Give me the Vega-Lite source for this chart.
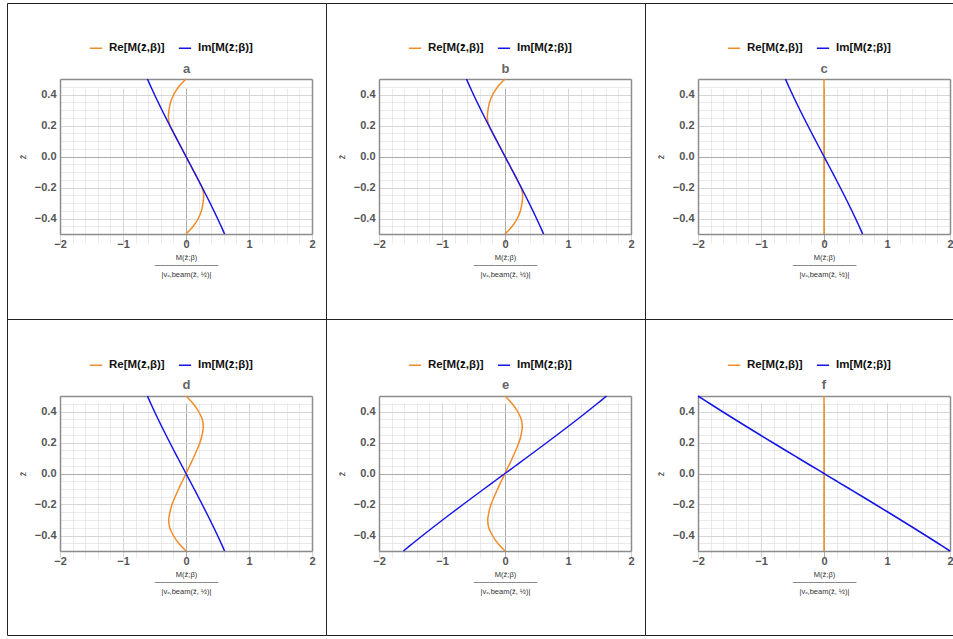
{
  "$schema": "https://vega.github.io/schema/vega-lite/v6.json",
  "padding": {"left": 6, "top": 2, "right": 0, "bottom": 0},
  "columns": 3,
  "spacing": 0,
  "bounds": "flush",
  "resolve": {"legend": {"color": "independent"}},
  "datasets": {
    "curves": [
      {"p": "a", "z": 0.5, "re": 0, "im": -0.6125},
      {"p": "a", "z": 0.45, "re": -0.115, "im": -0.5577},
      {"p": "a", "z": 0.4, "re": -0.195, "im": -0.5008},
      {"p": "a", "z": 0.35, "re": -0.245, "im": -0.4421},
      {"p": "a", "z": 0.3, "re": -0.27, "im": -0.3819},
      {"p": "a", "z": 0.25, "re": -0.28, "im": -0.3203},
      {"p": "a", "z": 0.2, "re": -0.255, "im": -0.2576},
      {"p": "a", "z": 0.15, "re": -0.192, "im": -0.194},
      {"p": "a", "z": 0.1, "re": -0.128, "im": -0.1297},
      {"p": "a", "z": 0.05, "re": -0.064, "im": -0.065},
      {"p": "a", "z": 0, "re": 0, "im": 0},
      {"p": "a", "z": -0.05, "re": 0.064, "im": 0.065},
      {"p": "a", "z": -0.1, "re": 0.128, "im": 0.1297},
      {"p": "a", "z": -0.15, "re": 0.192, "im": 0.194},
      {"p": "a", "z": -0.2, "re": 0.255, "im": 0.2576},
      {"p": "a", "z": -0.25, "re": 0.28, "im": 0.3203},
      {"p": "a", "z": -0.3, "re": 0.27, "im": 0.3819},
      {"p": "a", "z": -0.35, "re": 0.245, "im": 0.4421},
      {"p": "a", "z": -0.4, "re": 0.195, "im": 0.5008},
      {"p": "a", "z": -0.45, "re": 0.115, "im": 0.5577},
      {"p": "a", "z": -0.5, "re": 0, "im": 0.6125},

      {"p": "b", "z": 0.5, "re": 0, "im": -0.6125},
      {"p": "b", "z": 0.45, "re": -0.115, "im": -0.5577},
      {"p": "b", "z": 0.4, "re": -0.195, "im": -0.5008},
      {"p": "b", "z": 0.35, "re": -0.245, "im": -0.4421},
      {"p": "b", "z": 0.3, "re": -0.27, "im": -0.3819},
      {"p": "b", "z": 0.25, "re": -0.28, "im": -0.3203},
      {"p": "b", "z": 0.2, "re": -0.255, "im": -0.2576},
      {"p": "b", "z": 0.15, "re": -0.192, "im": -0.194},
      {"p": "b", "z": 0.1, "re": -0.128, "im": -0.1297},
      {"p": "b", "z": 0.05, "re": -0.064, "im": -0.065},
      {"p": "b", "z": 0, "re": 0, "im": 0},
      {"p": "b", "z": -0.05, "re": 0.064, "im": 0.065},
      {"p": "b", "z": -0.1, "re": 0.128, "im": 0.1297},
      {"p": "b", "z": -0.15, "re": 0.192, "im": 0.194},
      {"p": "b", "z": -0.2, "re": 0.255, "im": 0.2576},
      {"p": "b", "z": -0.25, "re": 0.28, "im": 0.3203},
      {"p": "b", "z": -0.3, "re": 0.27, "im": 0.3819},
      {"p": "b", "z": -0.35, "re": 0.245, "im": 0.4421},
      {"p": "b", "z": -0.4, "re": 0.195, "im": 0.5008},
      {"p": "b", "z": -0.45, "re": 0.115, "im": 0.5577},
      {"p": "b", "z": -0.5, "re": 0, "im": 0.6125},

      {"p": "c", "z": 0.5, "re": 0, "im": -0.6125},
      {"p": "c", "z": 0.45, "re": 0, "im": -0.5577},
      {"p": "c", "z": 0.4, "re": 0, "im": -0.5008},
      {"p": "c", "z": 0.35, "re": 0, "im": -0.4421},
      {"p": "c", "z": 0.3, "re": 0, "im": -0.3819},
      {"p": "c", "z": 0.25, "re": 0, "im": -0.3203},
      {"p": "c", "z": 0.2, "re": 0, "im": -0.2576},
      {"p": "c", "z": 0.15, "re": 0, "im": -0.194},
      {"p": "c", "z": 0.1, "re": 0, "im": -0.1297},
      {"p": "c", "z": 0.05, "re": 0, "im": -0.065},
      {"p": "c", "z": 0, "re": 0, "im": 0},
      {"p": "c", "z": -0.05, "re": 0, "im": 0.065},
      {"p": "c", "z": -0.1, "re": 0, "im": 0.1297},
      {"p": "c", "z": -0.15, "re": 0, "im": 0.194},
      {"p": "c", "z": -0.2, "re": 0, "im": 0.2576},
      {"p": "c", "z": -0.25, "re": 0, "im": 0.3203},
      {"p": "c", "z": -0.3, "re": 0, "im": 0.3819},
      {"p": "c", "z": -0.35, "re": 0, "im": 0.4421},
      {"p": "c", "z": -0.4, "re": 0, "im": 0.5008},
      {"p": "c", "z": -0.45, "re": 0, "im": 0.5577},
      {"p": "c", "z": -0.5, "re": 0, "im": 0.6125},

      {"p": "d", "z": 0.5, "re": 0, "im": -0.6125},
      {"p": "d", "z": 0.45, "re": 0.115, "im": -0.5577},
      {"p": "d", "z": 0.4, "re": 0.2, "im": -0.5008},
      {"p": "d", "z": 0.35, "re": 0.258, "im": -0.4421},
      {"p": "d", "z": 0.3, "re": 0.274, "im": -0.3819},
      {"p": "d", "z": 0.25, "re": 0.256, "im": -0.3203},
      {"p": "d", "z": 0.2, "re": 0.222, "im": -0.2576},
      {"p": "d", "z": 0.15, "re": 0.172, "im": -0.194},
      {"p": "d", "z": 0.1, "re": 0.117, "im": -0.1297},
      {"p": "d", "z": 0.05, "re": 0.059, "im": -0.065},
      {"p": "d", "z": 0, "re": 0, "im": 0},
      {"p": "d", "z": -0.05, "re": -0.059, "im": 0.065},
      {"p": "d", "z": -0.1, "re": -0.117, "im": 0.1297},
      {"p": "d", "z": -0.15, "re": -0.172, "im": 0.194},
      {"p": "d", "z": -0.2, "re": -0.222, "im": 0.2576},
      {"p": "d", "z": -0.25, "re": -0.256, "im": 0.3203},
      {"p": "d", "z": -0.3, "re": -0.274, "im": 0.3819},
      {"p": "d", "z": -0.35, "re": -0.258, "im": 0.4421},
      {"p": "d", "z": -0.4, "re": -0.2, "im": 0.5008},
      {"p": "d", "z": -0.45, "re": -0.115, "im": 0.5577},
      {"p": "d", "z": -0.5, "re": 0, "im": 0.6125},

      {"p": "e", "z": 0.5, "re": 0, "im": 1.6125},
      {"p": "e", "z": 0.45, "re": 0.115, "im": 1.4619},
      {"p": "e", "z": 0.4, "re": 0.2, "im": 1.308},
      {"p": "e", "z": 0.35, "re": 0.258, "im": 1.1511},
      {"p": "e", "z": 0.3, "re": 0.274, "im": 0.9915},
      {"p": "e", "z": 0.25, "re": 0.256, "im": 0.8297},
      {"p": "e", "z": 0.2, "re": 0.222, "im": 0.666},
      {"p": "e", "z": 0.15, "re": 0.172, "im": 0.5008},
      {"p": "e", "z": 0.1, "re": 0.117, "im": 0.3345},
      {"p": "e", "z": 0.05, "re": 0.059, "im": 0.1674},
      {"p": "e", "z": 0, "re": 0, "im": 0},
      {"p": "e", "z": -0.05, "re": -0.059, "im": -0.1674},
      {"p": "e", "z": -0.1, "re": -0.117, "im": -0.3345},
      {"p": "e", "z": -0.15, "re": -0.172, "im": -0.5008},
      {"p": "e", "z": -0.2, "re": -0.222, "im": -0.666},
      {"p": "e", "z": -0.25, "re": -0.256, "im": -0.8297},
      {"p": "e", "z": -0.3, "re": -0.274, "im": -0.9915},
      {"p": "e", "z": -0.35, "re": -0.258, "im": -1.1511},
      {"p": "e", "z": -0.4, "re": -0.2, "im": -1.308},
      {"p": "e", "z": -0.45, "re": -0.115, "im": -1.4619},
      {"p": "e", "z": -0.5, "re": 0, "im": -1.6125},

      {"p": "f", "z": 0.5, "re": 0, "im": -2.0},
      {"p": "f", "z": 0.45, "re": 0, "im": -1.8086},
      {"p": "f", "z": 0.4, "re": 0, "im": -1.6144},
      {"p": "f", "z": 0.35, "re": 0, "im": -1.4179},
      {"p": "f", "z": 0.3, "re": 0, "im": -1.2192},
      {"p": "f", "z": 0.25, "re": 0, "im": -1.0188},
      {"p": "f", "z": 0.2, "re": 0, "im": -0.8168},
      {"p": "f", "z": 0.15, "re": 0, "im": -0.6137},
      {"p": "f", "z": 0.1, "re": 0, "im": -0.4096},
      {"p": "f", "z": 0.05, "re": 0, "im": -0.205},
      {"p": "f", "z": 0, "re": 0, "im": 0},
      {"p": "f", "z": -0.05, "re": 0, "im": 0.205},
      {"p": "f", "z": -0.1, "re": 0, "im": 0.4096},
      {"p": "f", "z": -0.15, "re": 0, "im": 0.6137},
      {"p": "f", "z": -0.2, "re": 0, "im": 0.8168},
      {"p": "f", "z": -0.25, "re": 0, "im": 1.0188},
      {"p": "f", "z": -0.3, "re": 0, "im": 1.2192},
      {"p": "f", "z": -0.35, "re": 0, "im": 1.4179},
      {"p": "f", "z": -0.4, "re": 0, "im": 1.6144},
      {"p": "f", "z": -0.45, "re": 0, "im": 1.8086},
      {"p": "f", "z": -0.5, "re": 0, "im": 2.0}
    ]
  },
  "data": {"name": "curves"},
  "concat": [
    {
      "width": 319, "height": 316,
      "title": {"text": "a", "dx": 20},
      "transform": [{"filter": "datum.p === 'a'"}, {"fold": ["re", "im"], "as": ["comp", "v"]}],
      "resolve": {"axis": {"x": "independent", "y": "independent"}},
      "layer": [
        {
          "transform": [{"filter": "datum.comp === 're'"}],
          "mark": {"type": "line", "interpolate": "catmull-rom", "strokeWidth": 1.5},
          "encoding": {
            "x": {"field": "v", "type": "quantitative", "scale": {"domain": [-2, 2], "range": [53, 305], "nice": false, "zero": false},
              "axis": {"orient": "bottom", "offset": -85, "grid": true,
                "values": [-2, -1.8, -1.6, -1.4, -1.2, -1, -0.8, -0.6, -0.4, -0.2, 0, 0.2, 0.4, 0.6, 0.8, 1, 1.2, 1.4, 1.6, 1.8, 2],
                "labelExpr": "datum.value % 1 === 0 ? format(datum.value, 'd') : ''",
                "gridColor": {"condition": {"test": "datum.value === 0", "value": "#ababab"}, "value": "#d6d6d6"},
                "gridOpacity": {"condition": {"test": "datum.value % 1 === 0", "value": 1}, "value": 0.5},
                "title": ["M(z̄;β)", "────────────", "|vₓ,beam(z̄, ½)|"]}},
            "y": {"field": "z", "type": "quantitative", "scale": {"domain": [-0.5, 0.5], "range": [231, 76], "nice": false, "zero": false},
              "axis": {"orient": "left", "offset": -53, "grid": true,
                "values": [-0.5, -0.45, -0.4, -0.35, -0.3, -0.25, -0.2, -0.15, -0.1, -0.05, 0, 0.05, 0.1, 0.15, 0.2, 0.25, 0.3, 0.35, 0.4, 0.45, 0.5],
                "labelExpr": "abs(datum.value * 5 - round(datum.value * 5)) < 1e-6 ? format(datum.value, '.1f') : ''",
                "gridColor": {"condition": {"test": "datum.value === 0", "value": "#ababab"}, "value": "#d6d6d6"},
                "gridOpacity": {"condition": {"test": "abs(datum.value * 5 - round(datum.value * 5)) < 1e-6", "value": 1}, "value": 0.5},
                "title": "z̄"}},
            "color": {"field": "comp", "type": "nominal", "scale": {"domain": ["re", "im"], "range": ["#F28C28", "#1515E8"]},
              "legend": {"orient": "none", "legendX": 82, "legendY": 38, "labelExpr": "datum.value === 're' ? 'Re[M(z̄,β)]' : 'Im[M(z̄;β)]'"}},
            "order": {"field": "z", "type": "quantitative"}
          }
        },
        {
          "transform": [{"filter": "datum.comp === 'im'"}],
          "mark": {"type": "line", "interpolate": "catmull-rom", "strokeWidth": 1.5},
          "encoding": {
            "x": {"field": "v", "type": "quantitative", "scale": {"domain": [-2, 2], "range": [53, 305], "nice": false, "zero": false},
              "axis": {"orient": "top", "offset": -76, "grid": false, "labels": false, "title": null}},
            "y": {"field": "z", "type": "quantitative", "scale": {"domain": [-0.5, 0.5], "range": [231, 76], "nice": false, "zero": false},
              "axis": {"orient": "right", "offset": -14, "grid": false, "labels": false, "title": null}},
            "color": {"field": "comp", "type": "nominal", "scale": {"domain": ["re", "im"], "range": ["#F28C28", "#1515E8"]},
              "legend": {"orient": "none", "legendX": 82, "legendY": 38, "labelExpr": "datum.value === 're' ? 'Re[M(z̄,β)]' : 'Im[M(z̄;β)]'"}},
            "order": {"field": "z", "type": "quantitative"}
          }
        }
      ]
    },
    {
      "width": 319, "height": 316,
      "title": {"text": "b", "dx": 20},
      "transform": [{"filter": "datum.p === 'b'"}, {"fold": ["re", "im"], "as": ["comp", "v"]}],
      "resolve": {"axis": {"x": "independent", "y": "independent"}},
      "layer": [
        {
          "transform": [{"filter": "datum.comp === 're'"}],
          "mark": {"type": "line", "interpolate": "catmull-rom", "strokeWidth": 1.5},
          "encoding": {
            "x": {"field": "v", "type": "quantitative", "scale": {"domain": [-2, 2], "range": [53, 305], "nice": false, "zero": false},
              "axis": {"orient": "bottom", "offset": -85, "grid": true,
                "values": [-2, -1.8, -1.6, -1.4, -1.2, -1, -0.8, -0.6, -0.4, -0.2, 0, 0.2, 0.4, 0.6, 0.8, 1, 1.2, 1.4, 1.6, 1.8, 2],
                "labelExpr": "datum.value % 1 === 0 ? format(datum.value, 'd') : ''",
                "gridColor": {"condition": {"test": "datum.value === 0", "value": "#ababab"}, "value": "#d6d6d6"},
                "gridOpacity": {"condition": {"test": "datum.value % 1 === 0", "value": 1}, "value": 0.5},
                "title": ["M(z̄;β)", "────────────", "|vₓ,beam(z̄, ½)|"]}},
            "y": {"field": "z", "type": "quantitative", "scale": {"domain": [-0.5, 0.5], "range": [231, 76], "nice": false, "zero": false},
              "axis": {"orient": "left", "offset": -53, "grid": true,
                "values": [-0.5, -0.45, -0.4, -0.35, -0.3, -0.25, -0.2, -0.15, -0.1, -0.05, 0, 0.05, 0.1, 0.15, 0.2, 0.25, 0.3, 0.35, 0.4, 0.45, 0.5],
                "labelExpr": "abs(datum.value * 5 - round(datum.value * 5)) < 1e-6 ? format(datum.value, '.1f') : ''",
                "gridColor": {"condition": {"test": "datum.value === 0", "value": "#ababab"}, "value": "#d6d6d6"},
                "gridOpacity": {"condition": {"test": "abs(datum.value * 5 - round(datum.value * 5)) < 1e-6", "value": 1}, "value": 0.5},
                "title": "z̄"}},
            "color": {"field": "comp", "type": "nominal", "scale": {"domain": ["re", "im"], "range": ["#F28C28", "#1515E8"]},
              "legend": {"orient": "none", "legendX": 82, "legendY": 38, "labelExpr": "datum.value === 're' ? 'Re[M(z̄,β)]' : 'Im[M(z̄;β)]'"}},
            "order": {"field": "z", "type": "quantitative"}
          }
        },
        {
          "transform": [{"filter": "datum.comp === 'im'"}],
          "mark": {"type": "line", "interpolate": "catmull-rom", "strokeWidth": 1.5},
          "encoding": {
            "x": {"field": "v", "type": "quantitative", "scale": {"domain": [-2, 2], "range": [53, 305], "nice": false, "zero": false},
              "axis": {"orient": "top", "offset": -76, "grid": false, "labels": false, "title": null}},
            "y": {"field": "z", "type": "quantitative", "scale": {"domain": [-0.5, 0.5], "range": [231, 76], "nice": false, "zero": false},
              "axis": {"orient": "right", "offset": -14, "grid": false, "labels": false, "title": null}},
            "color": {"field": "comp", "type": "nominal", "scale": {"domain": ["re", "im"], "range": ["#F28C28", "#1515E8"]},
              "legend": {"orient": "none", "legendX": 82, "legendY": 38, "labelExpr": "datum.value === 're' ? 'Re[M(z̄,β)]' : 'Im[M(z̄;β)]'"}},
            "order": {"field": "z", "type": "quantitative"}
          }
        }
      ]
    },
    {
      "width": 310, "height": 316,
      "title": {"text": "c", "dx": 24},
      "transform": [{"filter": "datum.p === 'c'"}, {"fold": ["re", "im"], "as": ["comp", "v"]}],
      "resolve": {"axis": {"x": "independent", "y": "independent"}},
      "layer": [
        {
          "transform": [{"filter": "datum.comp === 're'"}],
          "mark": {"type": "line", "interpolate": "catmull-rom", "strokeWidth": 1.5},
          "encoding": {
            "x": {"field": "v", "type": "quantitative", "scale": {"domain": [-2, 2], "range": [53, 305], "nice": false, "zero": false},
              "axis": {"orient": "bottom", "offset": -85, "grid": true,
                "values": [-2, -1.8, -1.6, -1.4, -1.2, -1, -0.8, -0.6, -0.4, -0.2, 0, 0.2, 0.4, 0.6, 0.8, 1, 1.2, 1.4, 1.6, 1.8, 2],
                "labelExpr": "datum.value % 1 === 0 ? format(datum.value, 'd') : ''",
                "gridColor": {"condition": {"test": "datum.value === 0", "value": "#ababab"}, "value": "#d6d6d6"},
                "gridOpacity": {"condition": {"test": "datum.value % 1 === 0", "value": 1}, "value": 0.5},
                "title": ["M(z̄;β)", "────────────", "|vₓ,beam(z̄, ½)|"]}},
            "y": {"field": "z", "type": "quantitative", "scale": {"domain": [-0.5, 0.5], "range": [231, 76], "nice": false, "zero": false},
              "axis": {"orient": "left", "offset": -53, "grid": true,
                "values": [-0.5, -0.45, -0.4, -0.35, -0.3, -0.25, -0.2, -0.15, -0.1, -0.05, 0, 0.05, 0.1, 0.15, 0.2, 0.25, 0.3, 0.35, 0.4, 0.45, 0.5],
                "labelExpr": "abs(datum.value * 5 - round(datum.value * 5)) < 1e-6 ? format(datum.value, '.1f') : ''",
                "gridColor": {"condition": {"test": "datum.value === 0", "value": "#ababab"}, "value": "#d6d6d6"},
                "gridOpacity": {"condition": {"test": "abs(datum.value * 5 - round(datum.value * 5)) < 1e-6", "value": 1}, "value": 0.5},
                "title": "z̄"}},
            "color": {"field": "comp", "type": "nominal", "scale": {"domain": ["re", "im"], "range": ["#F28C28", "#1515E8"]},
              "legend": {"orient": "none", "legendX": 82, "legendY": 38, "labelExpr": "datum.value === 're' ? 'Re[M(z̄,β)]' : 'Im[M(z̄;β)]'"}},
            "order": {"field": "z", "type": "quantitative"}
          }
        },
        {
          "transform": [{"filter": "datum.comp === 'im'"}],
          "mark": {"type": "line", "interpolate": "catmull-rom", "strokeWidth": 1.5},
          "encoding": {
            "x": {"field": "v", "type": "quantitative", "scale": {"domain": [-2, 2], "range": [53, 305], "nice": false, "zero": false},
              "axis": {"orient": "top", "offset": -76, "grid": false, "labels": false, "title": null}},
            "y": {"field": "z", "type": "quantitative", "scale": {"domain": [-0.5, 0.5], "range": [231, 76], "nice": false, "zero": false},
              "axis": {"orient": "right", "offset": -5, "grid": false, "labels": false, "title": null}},
            "color": {"field": "comp", "type": "nominal", "scale": {"domain": ["re", "im"], "range": ["#F28C28", "#1515E8"]},
              "legend": {"orient": "none", "legendX": 82, "legendY": 38, "labelExpr": "datum.value === 're' ? 'Re[M(z̄,β)]' : 'Im[M(z̄;β)]'"}},
            "order": {"field": "z", "type": "quantitative"}
          }
        }
      ]
    },
    {
      "width": 319, "height": 316,
      "title": {"text": "d", "dx": 20},
      "transform": [{"filter": "datum.p === 'd'"}, {"fold": ["re", "im"], "as": ["comp", "v"]}],
      "resolve": {"axis": {"x": "independent", "y": "independent"}},
      "layer": [
        {
          "transform": [{"filter": "datum.comp === 're'"}],
          "mark": {"type": "line", "interpolate": "catmull-rom", "strokeWidth": 1.5},
          "encoding": {
            "x": {"field": "v", "type": "quantitative", "scale": {"domain": [-2, 2], "range": [53, 305], "nice": false, "zero": false},
              "axis": {"orient": "bottom", "offset": -84, "grid": true,
                "values": [-2, -1.8, -1.6, -1.4, -1.2, -1, -0.8, -0.6, -0.4, -0.2, 0, 0.2, 0.4, 0.6, 0.8, 1, 1.2, 1.4, 1.6, 1.8, 2],
                "labelExpr": "datum.value % 1 === 0 ? format(datum.value, 'd') : ''",
                "gridColor": {"condition": {"test": "datum.value === 0", "value": "#ababab"}, "value": "#d6d6d6"},
                "gridOpacity": {"condition": {"test": "datum.value % 1 === 0", "value": 1}, "value": 0.5},
                "title": ["M(z̄;β)", "────────────", "|vₓ,beam(z̄, ½)|"]}},
            "y": {"field": "z", "type": "quantitative", "scale": {"domain": [-0.5, 0.5], "range": [232, 77], "nice": false, "zero": false},
              "axis": {"orient": "left", "offset": -53, "grid": true,
                "values": [-0.5, -0.45, -0.4, -0.35, -0.3, -0.25, -0.2, -0.15, -0.1, -0.05, 0, 0.05, 0.1, 0.15, 0.2, 0.25, 0.3, 0.35, 0.4, 0.45, 0.5],
                "labelExpr": "abs(datum.value * 5 - round(datum.value * 5)) < 1e-6 ? format(datum.value, '.1f') : ''",
                "gridColor": {"condition": {"test": "datum.value === 0", "value": "#ababab"}, "value": "#d6d6d6"},
                "gridOpacity": {"condition": {"test": "abs(datum.value * 5 - round(datum.value * 5)) < 1e-6", "value": 1}, "value": 0.5},
                "title": "z̄"}},
            "color": {"field": "comp", "type": "nominal", "scale": {"domain": ["re", "im"], "range": ["#F28C28", "#1515E8"]},
              "legend": {"orient": "none", "legendX": 82, "legendY": 39, "labelExpr": "datum.value === 're' ? 'Re[M(z̄,β)]' : 'Im[M(z̄;β)]'"}},
            "order": {"field": "z", "type": "quantitative"}
          }
        },
        {
          "transform": [{"filter": "datum.comp === 'im'"}],
          "mark": {"type": "line", "interpolate": "catmull-rom", "strokeWidth": 1.5},
          "encoding": {
            "x": {"field": "v", "type": "quantitative", "scale": {"domain": [-2, 2], "range": [53, 305], "nice": false, "zero": false},
              "axis": {"orient": "top", "offset": -77, "grid": false, "labels": false, "title": null}},
            "y": {"field": "z", "type": "quantitative", "scale": {"domain": [-0.5, 0.5], "range": [232, 77], "nice": false, "zero": false},
              "axis": {"orient": "right", "offset": -14, "grid": false, "labels": false, "title": null}},
            "color": {"field": "comp", "type": "nominal", "scale": {"domain": ["re", "im"], "range": ["#F28C28", "#1515E8"]},
              "legend": {"orient": "none", "legendX": 82, "legendY": 39, "labelExpr": "datum.value === 're' ? 'Re[M(z̄,β)]' : 'Im[M(z̄;β)]'"}},
            "order": {"field": "z", "type": "quantitative"}
          }
        }
      ]
    },
    {
      "width": 319, "height": 316,
      "title": {"text": "e", "dx": 20},
      "transform": [{"filter": "datum.p === 'e'"}, {"fold": ["re", "im"], "as": ["comp", "v"]}],
      "resolve": {"axis": {"x": "independent", "y": "independent"}},
      "layer": [
        {
          "transform": [{"filter": "datum.comp === 're'"}],
          "mark": {"type": "line", "interpolate": "catmull-rom", "strokeWidth": 1.5},
          "encoding": {
            "x": {"field": "v", "type": "quantitative", "scale": {"domain": [-2, 2], "range": [53, 305], "nice": false, "zero": false},
              "axis": {"orient": "bottom", "offset": -84, "grid": true,
                "values": [-2, -1.8, -1.6, -1.4, -1.2, -1, -0.8, -0.6, -0.4, -0.2, 0, 0.2, 0.4, 0.6, 0.8, 1, 1.2, 1.4, 1.6, 1.8, 2],
                "labelExpr": "datum.value % 1 === 0 ? format(datum.value, 'd') : ''",
                "gridColor": {"condition": {"test": "datum.value === 0", "value": "#ababab"}, "value": "#d6d6d6"},
                "gridOpacity": {"condition": {"test": "datum.value % 1 === 0", "value": 1}, "value": 0.5},
                "title": ["M(z̄;β)", "────────────", "|vₓ,beam(z̄, ½)|"]}},
            "y": {"field": "z", "type": "quantitative", "scale": {"domain": [-0.5, 0.5], "range": [232, 77], "nice": false, "zero": false},
              "axis": {"orient": "left", "offset": -53, "grid": true,
                "values": [-0.5, -0.45, -0.4, -0.35, -0.3, -0.25, -0.2, -0.15, -0.1, -0.05, 0, 0.05, 0.1, 0.15, 0.2, 0.25, 0.3, 0.35, 0.4, 0.45, 0.5],
                "labelExpr": "abs(datum.value * 5 - round(datum.value * 5)) < 1e-6 ? format(datum.value, '.1f') : ''",
                "gridColor": {"condition": {"test": "datum.value === 0", "value": "#ababab"}, "value": "#d6d6d6"},
                "gridOpacity": {"condition": {"test": "abs(datum.value * 5 - round(datum.value * 5)) < 1e-6", "value": 1}, "value": 0.5},
                "title": "z̄"}},
            "color": {"field": "comp", "type": "nominal", "scale": {"domain": ["re", "im"], "range": ["#F28C28", "#1515E8"]},
              "legend": {"orient": "none", "legendX": 82, "legendY": 39, "labelExpr": "datum.value === 're' ? 'Re[M(z̄,β)]' : 'Im[M(z̄;β)]'"}},
            "order": {"field": "z", "type": "quantitative"}
          }
        },
        {
          "transform": [{"filter": "datum.comp === 'im'"}],
          "mark": {"type": "line", "interpolate": "catmull-rom", "strokeWidth": 1.5},
          "encoding": {
            "x": {"field": "v", "type": "quantitative", "scale": {"domain": [-2, 2], "range": [53, 305], "nice": false, "zero": false},
              "axis": {"orient": "top", "offset": -77, "grid": false, "labels": false, "title": null}},
            "y": {"field": "z", "type": "quantitative", "scale": {"domain": [-0.5, 0.5], "range": [232, 77], "nice": false, "zero": false},
              "axis": {"orient": "right", "offset": -14, "grid": false, "labels": false, "title": null}},
            "color": {"field": "comp", "type": "nominal", "scale": {"domain": ["re", "im"], "range": ["#F28C28", "#1515E8"]},
              "legend": {"orient": "none", "legendX": 82, "legendY": 39, "labelExpr": "datum.value === 're' ? 'Re[M(z̄,β)]' : 'Im[M(z̄;β)]'"}},
            "order": {"field": "z", "type": "quantitative"}
          }
        }
      ]
    },
    {
      "width": 310, "height": 316,
      "title": {"text": "f", "dx": 24},
      "transform": [{"filter": "datum.p === 'f'"}, {"fold": ["re", "im"], "as": ["comp", "v"]}],
      "resolve": {"axis": {"x": "independent", "y": "independent"}},
      "layer": [
        {
          "transform": [{"filter": "datum.comp === 're'"}],
          "mark": {"type": "line", "interpolate": "catmull-rom", "strokeWidth": 1.5},
          "encoding": {
            "x": {"field": "v", "type": "quantitative", "scale": {"domain": [-2, 2], "range": [53, 305], "nice": false, "zero": false},
              "axis": {"orient": "bottom", "offset": -84, "grid": true,
                "values": [-2, -1.8, -1.6, -1.4, -1.2, -1, -0.8, -0.6, -0.4, -0.2, 0, 0.2, 0.4, 0.6, 0.8, 1, 1.2, 1.4, 1.6, 1.8, 2],
                "labelExpr": "datum.value % 1 === 0 ? format(datum.value, 'd') : ''",
                "gridColor": {"condition": {"test": "datum.value === 0", "value": "#ababab"}, "value": "#d6d6d6"},
                "gridOpacity": {"condition": {"test": "datum.value % 1 === 0", "value": 1}, "value": 0.5},
                "title": ["M(z̄;β)", "────────────", "|vₓ,beam(z̄, ½)|"]}},
            "y": {"field": "z", "type": "quantitative", "scale": {"domain": [-0.5, 0.5], "range": [232, 77], "nice": false, "zero": false},
              "axis": {"orient": "left", "offset": -53, "grid": true,
                "values": [-0.5, -0.45, -0.4, -0.35, -0.3, -0.25, -0.2, -0.15, -0.1, -0.05, 0, 0.05, 0.1, 0.15, 0.2, 0.25, 0.3, 0.35, 0.4, 0.45, 0.5],
                "labelExpr": "abs(datum.value * 5 - round(datum.value * 5)) < 1e-6 ? format(datum.value, '.1f') : ''",
                "gridColor": {"condition": {"test": "datum.value === 0", "value": "#ababab"}, "value": "#d6d6d6"},
                "gridOpacity": {"condition": {"test": "abs(datum.value * 5 - round(datum.value * 5)) < 1e-6", "value": 1}, "value": 0.5},
                "title": "z̄"}},
            "color": {"field": "comp", "type": "nominal", "scale": {"domain": ["re", "im"], "range": ["#F28C28", "#1515E8"]},
              "legend": {"orient": "none", "legendX": 82, "legendY": 39, "labelExpr": "datum.value === 're' ? 'Re[M(z̄,β)]' : 'Im[M(z̄;β)]'"}},
            "order": {"field": "z", "type": "quantitative"}
          }
        },
        {
          "transform": [{"filter": "datum.comp === 'im'"}],
          "mark": {"type": "line", "interpolate": "catmull-rom", "strokeWidth": 1.5},
          "encoding": {
            "x": {"field": "v", "type": "quantitative", "scale": {"domain": [-2, 2], "range": [53, 305], "nice": false, "zero": false},
              "axis": {"orient": "top", "offset": -77, "grid": false, "labels": false, "title": null}},
            "y": {"field": "z", "type": "quantitative", "scale": {"domain": [-0.5, 0.5], "range": [232, 77], "nice": false, "zero": false},
              "axis": {"orient": "right", "offset": -5, "grid": false, "labels": false, "title": null}},
            "color": {"field": "comp", "type": "nominal", "scale": {"domain": ["re", "im"], "range": ["#F28C28", "#1515E8"]},
              "legend": {"orient": "none", "legendX": 82, "legendY": 39, "labelExpr": "datum.value === 're' ? 'Re[M(z̄,β)]' : 'Im[M(z̄;β)]'"}},
            "order": {"field": "z", "type": "quantitative"}
          }
        }
      ]
    }
  ],
  "config": {
    "font": "Liberation Sans",
    "view": {"stroke": "#222", "strokeWidth": 1},
    "axis": {
      "domainColor": "#8c8c8c", "domainWidth": 1.5, "ticks": false,
      "labelFont": "Liberation Sans", "labelFontWeight": "bold", "labelColor": "#555555", "labelFontSize": 11,
      "labelOverlap": false, "labelFlush": false, "labelPadding": 4, "gridWidth": 1,
      "titleFont": "Liberation Sans", "titleFontWeight": "normal", "titleColor": "#333333"
    },
    "axisBottom": {"titleFontSize": 7.5, "titleLineHeight": 8.5, "titlePadding": 4},
    "axisLeft": {"titleFontSize": 9, "titlePadding": 7},
    "legend": {
      "direction": "horizontal", "title": null, "symbolType": "stroke", "symbolStrokeWidth": 1.5, "symbolSize": 150,
      "labelFont": "Liberation Sans", "labelFontSize": 11.5, "labelFontWeight": "bold", "labelColor": "#111111",
      "columnPadding": 10, "labelOffset": 6, "padding": 0
    },
    "title": {"fontSize": 13, "fontWeight": "bold", "color": "#666666", "offset": -73, "frame": "group", "anchor": "middle", "font": "Liberation Sans"}
  }
}
